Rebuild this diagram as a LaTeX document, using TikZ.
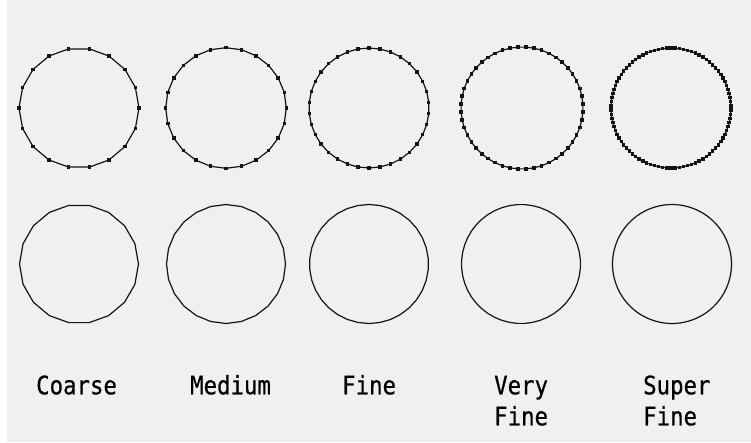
\documentclass[tikz,border=0pt]{standalone}
\usepackage{fontspec}
\newfontfamily\labfont[FakeStretch=0.88,FakeBold=0.6]{DejaVu Sans Mono}
\definecolor{bg}{HTML}{F0F0F0}
\definecolor{ink}{HTML}{141414}
\tikzset{
  ring/.style={draw=ink, line width=1.2pt, line join=round},
  vdot/.style={fill=ink},
  lab/.style={anchor=base west, inner sep=0pt, font=\labfont\fontsize{25.4}{31}\selectfont, text=black}
}
\begin{document}
\begin{tikzpicture}[x=1pt,y=-1pt]
\fill[bg] (0,0) rectangle (751,442);
\fill[white] (0,0) rectangle (7,442);
\useasboundingbox (0,0) rectangle (751,442);
% top row: polygons with vertex dots
\foreach \cx/\n/\o/\r in {79/18/0/60, 226/24/0/60.3, 369/34/90/60, 522/48/3.75/61, 671/90/2/60}{
  \begin{scope}[shift={(\cx,108)}]
    \pgfmathtruncatemacro\m{\n-1}
    \pgfmathsetmacro\st{360/\n}
    \draw[ring] (\o:\r) \foreach \k in {1,...,\m}{ -- ({\o+\k*\st}:\r) } -- cycle;
    \foreach \k in {1,...,\n}{
      \fill[vdot] ({\o+\k*\st}:\r) ++(-1.75,-1.75) rectangle ++(3.5,3.5);
    }
  \end{scope}
}
% bottom row: polygons only
\foreach \cx/\n/\o/\r in {79/18/0/59.5, 226/24/0/59.5, 369/34/90/59.5, 521/48/3.75/59.5, 672/90/2/59.5}{
  \begin{scope}[shift={(\cx,264)}]
    \pgfmathtruncatemacro\m{\n-1}
    \pgfmathsetmacro\st{360/\n}
    \draw[ring] (\o:\r) \foreach \k in {1,...,\m}{ -- ({\o+\k*\st}:\r) } -- cycle;
  \end{scope}
}
% labels
\node[lab] (coarse) at (36,394.3) {Coarse};
\node[lab] (medium) at (190,394.3) {Medium};
\node[lab] (fine) at (342,394.3) {Fine};
\node[lab] (very1) at (494,394.3) {Very};
\node[lab] (very2) at (494,425.3) {Fine};
\node[lab] (super1) at (643,394.3) {Super};
\node[lab] (super2) at (643,425.3) {Fine};
\end{tikzpicture}
\end{document}
